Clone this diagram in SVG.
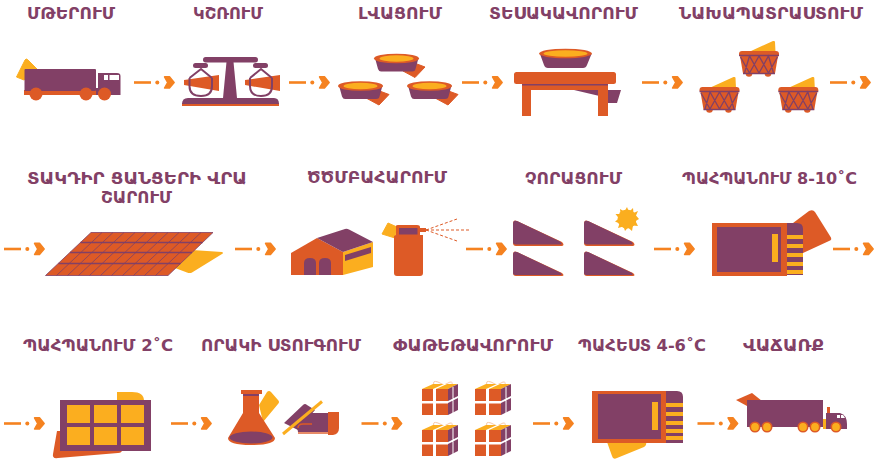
<svg xmlns="http://www.w3.org/2000/svg" width="874" height="460" viewBox="0 0 874 460">
<style>
.t{font-family:"DejaVu Sans","Noto Sans",sans-serif;font-weight:700;font-size:15px;fill:#824066}
.p{fill:#824066}.o{fill:#DD5A26}.y{fill:#FBAE1F}.w{fill:#fff}
.d{stroke:#F58220;stroke-width:2.6;fill:none}
.lat{stroke:#824066;stroke-width:1.3;fill:none}
.sp{stroke:#DD5A26;stroke-width:1;stroke-dasharray:3 2;fill:none}
</style>
<defs>
<g id="arrow"><path class="d" d="M0 0.5H17"/><circle cx="23.3" cy="0.5" r="2" fill="#F58220"/><path d="M30.5-5.2L35.5-5.2L40.2 0.5L35.5 6L30.5 6L33.6 0.5Z" fill="#F58220" stroke="#F58220" stroke-width="1.4" stroke-linejoin="round"/></g>
<g id="bowl"><path class="o" d="M403 71L415 77.5L425 67L417 64L403 64Z" stroke="#DD5A26" stroke-linejoin="round"/><path class="p" d="M375 58L378 69Q379 71.500 381 71.500L412 71.500Q415 71.500 415.500 69L418.500 58Z"/><ellipse class="o" cx="396.500" cy="58.500" rx="22.500" ry="4.800"/><ellipse class="y" cx="396.500" cy="58.500" rx="17" ry="3.200"/></g>
<g id="basket"><path class="y" d="M751 51L773 41Q775 40.500 775 42L775.500 52L751 52Z"/><circle class="o" cx="749" cy="73.500" r="3.300"/><circle class="o" cx="768" cy="73.500" r="3.300"/><path class="o" d="M740 56H778L775 73.500H743Z"/><path class="o" d="M739 55V54Q739 51 742 51H776Q779 51 779 54V55Z"/><path class="lat" d="M739 55.500H779M743 73.500H775M740.500 57L749.500 73L759 56L768.500 73L777.500 57M744.500 73L749.500 56L759 73L768.500 56L773.500 73"/></g>
<g id="gift"><path d="M434 385Q432 380 438 382L444 385L450 382Q454 382 451 385Z" fill="#fff" stroke="#F7C9A8" stroke-width="1"/><path class="y" d="M422 389L433 384L458 384L448 389Z"/><path class="w" d="M433 389L444 384H447L436 389Z"/><path class="o" d="M422 389H448V415H422Z"/><path class="w" d="M433 389H436V415H433ZM422 401H448V403.500H422Z"/><path class="p" d="M448 389L458 384V410L448 415Z"/><path class="w" d="M448 401L458 396V398L448 403ZM452.500 387H453.500V413H452.500Z"/></g>
<g id="tri"><path class="o" d="M513 224Q513 219 517 221L562 242Q565 245 562 246L516 246Q513 246 513 243Z"/><path class="p" d="M513 224Q513 219.500 517 221L560 241.500Q563 244 561 244.500L516 244.500Q513 244.500 513 242Z"/></g>
<g id="tri2"><path class="o" d="M513 255Q513 250 517 252L562 273Q565 275.500 562 276L516 276Q513 276 513 273Z"/><path class="p" d="M513 255Q513 250.500 517 252L560 272.500Q563 274.500 561 275L516 275Q513 275 513 273Z"/></g>
</defs>

<g id="connectors">
<use href="#arrow" x="134" y="82"/><use href="#arrow" x="289" y="82"/><use href="#arrow" x="462" y="82"/><use href="#arrow" x="642" y="82"/><use href="#arrow" x="830" y="82"/>
<use href="#arrow" x="4" y="248.500"/><use href="#arrow" x="235" y="248.500"/><use href="#arrow" x="466" y="248.500"/><use href="#arrow" x="654" y="248.500"/><use href="#arrow" x="833" y="248.500"/>
<use href="#arrow" x="4" y="423"/><use href="#arrow" x="171" y="423"/><use href="#arrow" x="361.500" y="423"/><use href="#arrow" x="533" y="423"/><use href="#arrow" x="697.500" y="423"/>
</g>

<g id="n1">
<text class="t" x="27" y="19" textLength="88" lengthAdjust="spacingAndGlyphs">ՄԹԵՐՈՒՄ</text>
<path class="y" d="M16.500 77L25 60Q26 58 28 60L38 70L24 80Z" stroke="#FBAE1F"/>
<rect class="o" x="24" y="90" width="73" height="5"/>
<rect class="p" x="24.500" y="69" width="71.500" height="22" rx="1"/>
<path class="p" d="M98 73H117Q120.500 73 120.500 76V95H98Z"/><rect class="p" x="96" y="88" width="2" height="7"/>
<rect class="w" x="104" y="75" width="4" height="5"/><rect class="w" x="109.500" y="75" width="9.500" height="5"/>
<circle class="o" cx="36" cy="94" r="6.500"/><circle class="o" cx="86" cy="94" r="6.500"/><circle class="o" cx="104.500" cy="94" r="6.500"/>
</g>

<g id="n2">
<text class="t" x="193" y="19" textLength="70" lengthAdjust="spacingAndGlyphs">ԿՇՌՈՒՄ</text>
<path class="o" d="M184 80L219 75V91L184 85Z"/><path class="o" d="M245 80L280 75V91L245 85Z"/>
<path d="M189.500 78L201 69L212 78M250 78L261 69L272 78M189.500 78V86Q189.500 96 201 96Q212 96 212 86V78M250 78V86Q250 96 261 96Q272 96 272 86V78" stroke="#824066" stroke-width="2" fill="none"/>
<path class="p" d="M226.500 62H233.500L237 98H223Z"/>
<rect class="p" x="203" y="57" width="55" height="5.500" rx="2.700"/>
<rect class="p" x="193" y="63" width="15" height="5" rx="2.500"/><rect class="p" x="253" y="63" width="15" height="5" rx="2.500"/>
<rect class="o" x="182" y="103" width="97" height="3"/>
<path class="p" d="M182 104Q182 98 188 98H274Q279 98 279 104Z"/>
</g>

<g id="n3">
<text class="t" x="358" y="19" textLength="84" lengthAdjust="spacingAndGlyphs">ԼՎԱՑՈՒՄ</text>
<use href="#bowl"/><use href="#bowl" x="-36" y="27.500"/><use href="#bowl" x="33" y="27.500"/>
</g>

<g id="n4">
<text class="t" x="489" y="19" textLength="149" lengthAdjust="spacingAndGlyphs">ՏԵՍԱԿԱՎՈՐՈՒՄ</text>
<path class="p" d="M574 90H621L617 103H608V98Z"/>
<path class="o" d="M522 85H608V116H598V90H531V116H522Z"/>
<rect class="o" x="514" y="72" width="102" height="12" rx="2.500"/><rect class="p" x="522" y="84" width="86" height="1.500"/>
<path class="p" d="M540 54L544 65Q545 68 548 68L583 68Q586 68 587 65L591.500 54Z"/>
<ellipse class="o" cx="565.500" cy="53.500" rx="26.500" ry="4.800"/><ellipse class="y" cx="565.500" cy="53.500" rx="22" ry="3.200"/>
</g>

<g id="n5">
<text class="t" x="679" y="19" textLength="184" lengthAdjust="spacingAndGlyphs">ՆԱԽԱՊԱՏՐԱՍՏՈՒՄ</text>
<use href="#basket"/><use href="#basket" x="-39.500" y="36"/><use href="#basket" x="39.300" y="36"/>
</g>

<g id="n6">
<text class="t" x="27" y="184" textLength="220" lengthAdjust="spacingAndGlyphs">ՏԱԿԴԻՐ ՑԱՆՑԵՐԻ ՎՐԱ</text>
<text class="t" x="101" y="203" textLength="71" lengthAdjust="spacingAndGlyphs">ՇԱՐՈՒՄ</text>
<path class="y" d="M192 250L222 252Q224 253 222 254L192 272.500Q190 273.500 187 272.500L175 268Z"/>
<path class="o" d="M91 232.500H213L168 275.500H45.500Z" stroke="#824066" stroke-width=".8"/>
<path d="M80.500 242.500H202.500M70 252.500H192M58.500 263.500H180.500" stroke="#824066" stroke-width="1.700" fill="none"/>
<path d="M102 232.500L56.500 275.500M113 232.500L67.500 275.500M124 232.500L78.500 275.500M135 232.500L89.500 275.500M146 232.500L100.500 275.500M157 232.500L111.500 275.500M168 232.500L122.500 275.500M179 232.500L133.500 275.500M190 232.500L144.500 275.500M201 232.500L155.500 275.500" stroke="#824066" stroke-width=".8" fill="none"/>
</g>

<g id="n7">
<text class="t" x="307" y="183" textLength="140" lengthAdjust="spacingAndGlyphs">ԾԾՄԲԱՀԱՐՈՒՄ</text>
<path class="o" d="M291 275V253L317 238L343 252V275Z"/>
<path class="y" d="M343 252L373 242V267L343 275Z"/>
<path class="p" d="M345 255L371 247V253L345 261ZM317 238L345 229Q347 228.500 349 229.500L373 242L343 252Z"/>
<path class="p" d="M304 275V263Q304 258 310 258Q316 258 316 263V275ZM319 275V263Q319 258 325 258Q331 258 331 263V275Z"/>
<path class="y" d="M382 234L388 223L397 227L395 238Z" stroke="#FBAE1F" stroke-linejoin="round"/>
<path class="o" d="M396 235V226Q396 225 398 225H417Q420 225 420 227V235H423V273Q423 276 420 276H397Q394 276 394 273V236Z"/>
<rect class="p" x="399" y="228" width="18.500" height="6.500"/>
<path class="o" d="M420 228H426V232H420Z"/>
<path class="sp" d="M426 230L457 219M426 230H469M426 230L457 241"/>
</g>

<g id="n8">
<text class="t" x="525" y="184" textLength="97" lengthAdjust="spacingAndGlyphs">ՉՈՐԱՑՈՒՄ</text>
<use href="#tri"/><use href="#tri2"/><use href="#tri" x="71"/><use href="#tri2" x="71"/>
<circle class="y" cx="627" cy="219" r="9.500"/>
<path class="y" d="M627 207L629 212L633 208L633.500 213L638 211L636 215.500L639 219L635.500 221L638 226L633 225.500L632 231L628 227.500L625 231L623.500 226.500L618 228L619.500 223.500L615 221.500L619 218.500L615.500 214L620.500 214L620 209L624.500 211.500Z"/>
</g>

<g id="n9">
<text class="t" x="682" y="184" textLength="175" lengthAdjust="spacingAndGlyphs">ՊԱՀՊԱՆՈՒՄ 8-10˚C</text>
<path class="o" d="M793 223L809 211Q813 209 815 212L830 236Q833 240 829 241L803 253Z"/>
<rect class="o" x="712" y="223" width="75" height="53"/>
<rect class="p" x="717" y="227" width="64" height="45"/>
<rect class="y" x="772" y="234" width="6" height="28"/>
<path class="p" d="M787 223H797Q803 223 803 229V275H787Z"/>
<path class="y" d="M787 235h16v4h-16zM787 244h16v4h-16zM787 253h16v4h-16zM787 262h16v4h-16zM787 270h16v4h-16z"/>
</g>

<g id="n10">
<text class="t" x="23" y="351" textLength="150" lengthAdjust="spacingAndGlyphs">ՊԱՀՊԱՆՈՒՄ 2˚C</text>
<path class="y" d="M117 401V392H132Q144 392 144 401Z"/>
<path class="o" d="M57 431H70V450H122Q122 453 118 453L58 458Q52 459 53 454Z"/>
<rect class="p" x="60" y="400" width="91" height="51"/>
<path class="y" d="M67 405h23v18h-23zM94 405h23v18h-23zM121 405h23v18h-23zM67 427h23v18h-23zM94 427h23v18h-23zM121 427h23v18h-23z"/>
</g>

<g id="n11">
<text class="t" x="201" y="351" textLength="160" lengthAdjust="spacingAndGlyphs">ՈՐԱԿԻ ՍՏՈՒԳՈՒՄ</text>
<path class="y" d="M259 405L267 392Q269 390 271 392L278 400Q280 402 278 404L263 422Z"/>
<path class="o" d="M243 396H259V413L275 438Q275 445 251 445Q228 445 228 438L243 413Z"/>
<ellipse class="p" cx="251" cy="437.500" rx="21.500" ry="6"/>
<rect class="o" x="241" y="390" width="21" height="4"/><rect class="p" x="243" y="394" width="16" height="2"/>
<path class="p" d="M284 423L303 405Q305 403 307 405L315 410L298 430Z"/>
<path class="p" d="M310 413H328V432H298L297 427Z"/>
<path class="o" d="M328 412H339V428Q339 434 333 435L328 435Z"/>
<path d="M298 428Q298 424 303 424H312" stroke="#DD5A26" stroke-width="1.500" fill="none"/>
<rect class="o" x="298" y="432" width="30" height="2" opacity=".7"/>
<path d="M283 434L322 401.500" stroke="#FBAE1F" stroke-width="3" fill="none"/>
</g>

<g id="n12">
<text class="t" x="393" y="351" textLength="160" lengthAdjust="spacingAndGlyphs">ՓԱԹԵԹԱՎՈՐՈՒՄ</text>
<use href="#gift"/><use href="#gift" x="53"/><use href="#gift" y="41"/><use href="#gift" x="53" y="41"/>
</g>

<g id="n13">
<text class="t" x="578" y="351" textLength="128" lengthAdjust="spacingAndGlyphs">ՊԱՀԵՍՏ 4-6˚C</text>
<path class="y" d="M607 442L612 456Q613 460 617 458L644 447Q647 445 646 442Z"/>
<rect class="o" x="592" y="391" width="74" height="52"/>
<rect class="p" x="598" y="394" width="63" height="45"/>
<rect class="y" x="652" y="402" width="6" height="28"/>
<path class="p" d="M666 391H677Q683 391 683 397V443H666Z"/>
<path class="y" d="M666 403h17v4h-17zM666 412h17v4h-17zM666 421h17v4h-17zM666 429h17v4h-17zM666 436h17v4h-17z"/>
</g>

<g id="n14">
<text class="t" x="743" y="351" textLength="81" lengthAdjust="spacingAndGlyphs">ՎԱՃԱՌՔ</text>
<path class="o" d="M736 400L752 393L762 401L747 406Z"/>
<rect class="p" x="747" y="400" width="76" height="27"/>
<rect class="o" x="827" y="407" width="3" height="7"/>
<rect class="y" x="823" y="419" width="3" height="10"/>
<path class="p" d="M826 413H840Q847 415 847 424V429H826Z"/>
<rect class="w" x="837" y="415" width="3" height="3"/><path class="w" d="M841 415H843L845 418H841Z"/>
<g stroke="#DD5A26" stroke-width="1.600" fill="#FBAE1F"><circle cx="755" cy="427" r="4.700"/><circle cx="767" cy="427" r="4.700"/><circle cx="803" cy="427" r="4.700"/><circle cx="815" cy="427" r="4.700"/><circle cx="836" cy="427" r="4.700"/></g>
</g>
</svg>
